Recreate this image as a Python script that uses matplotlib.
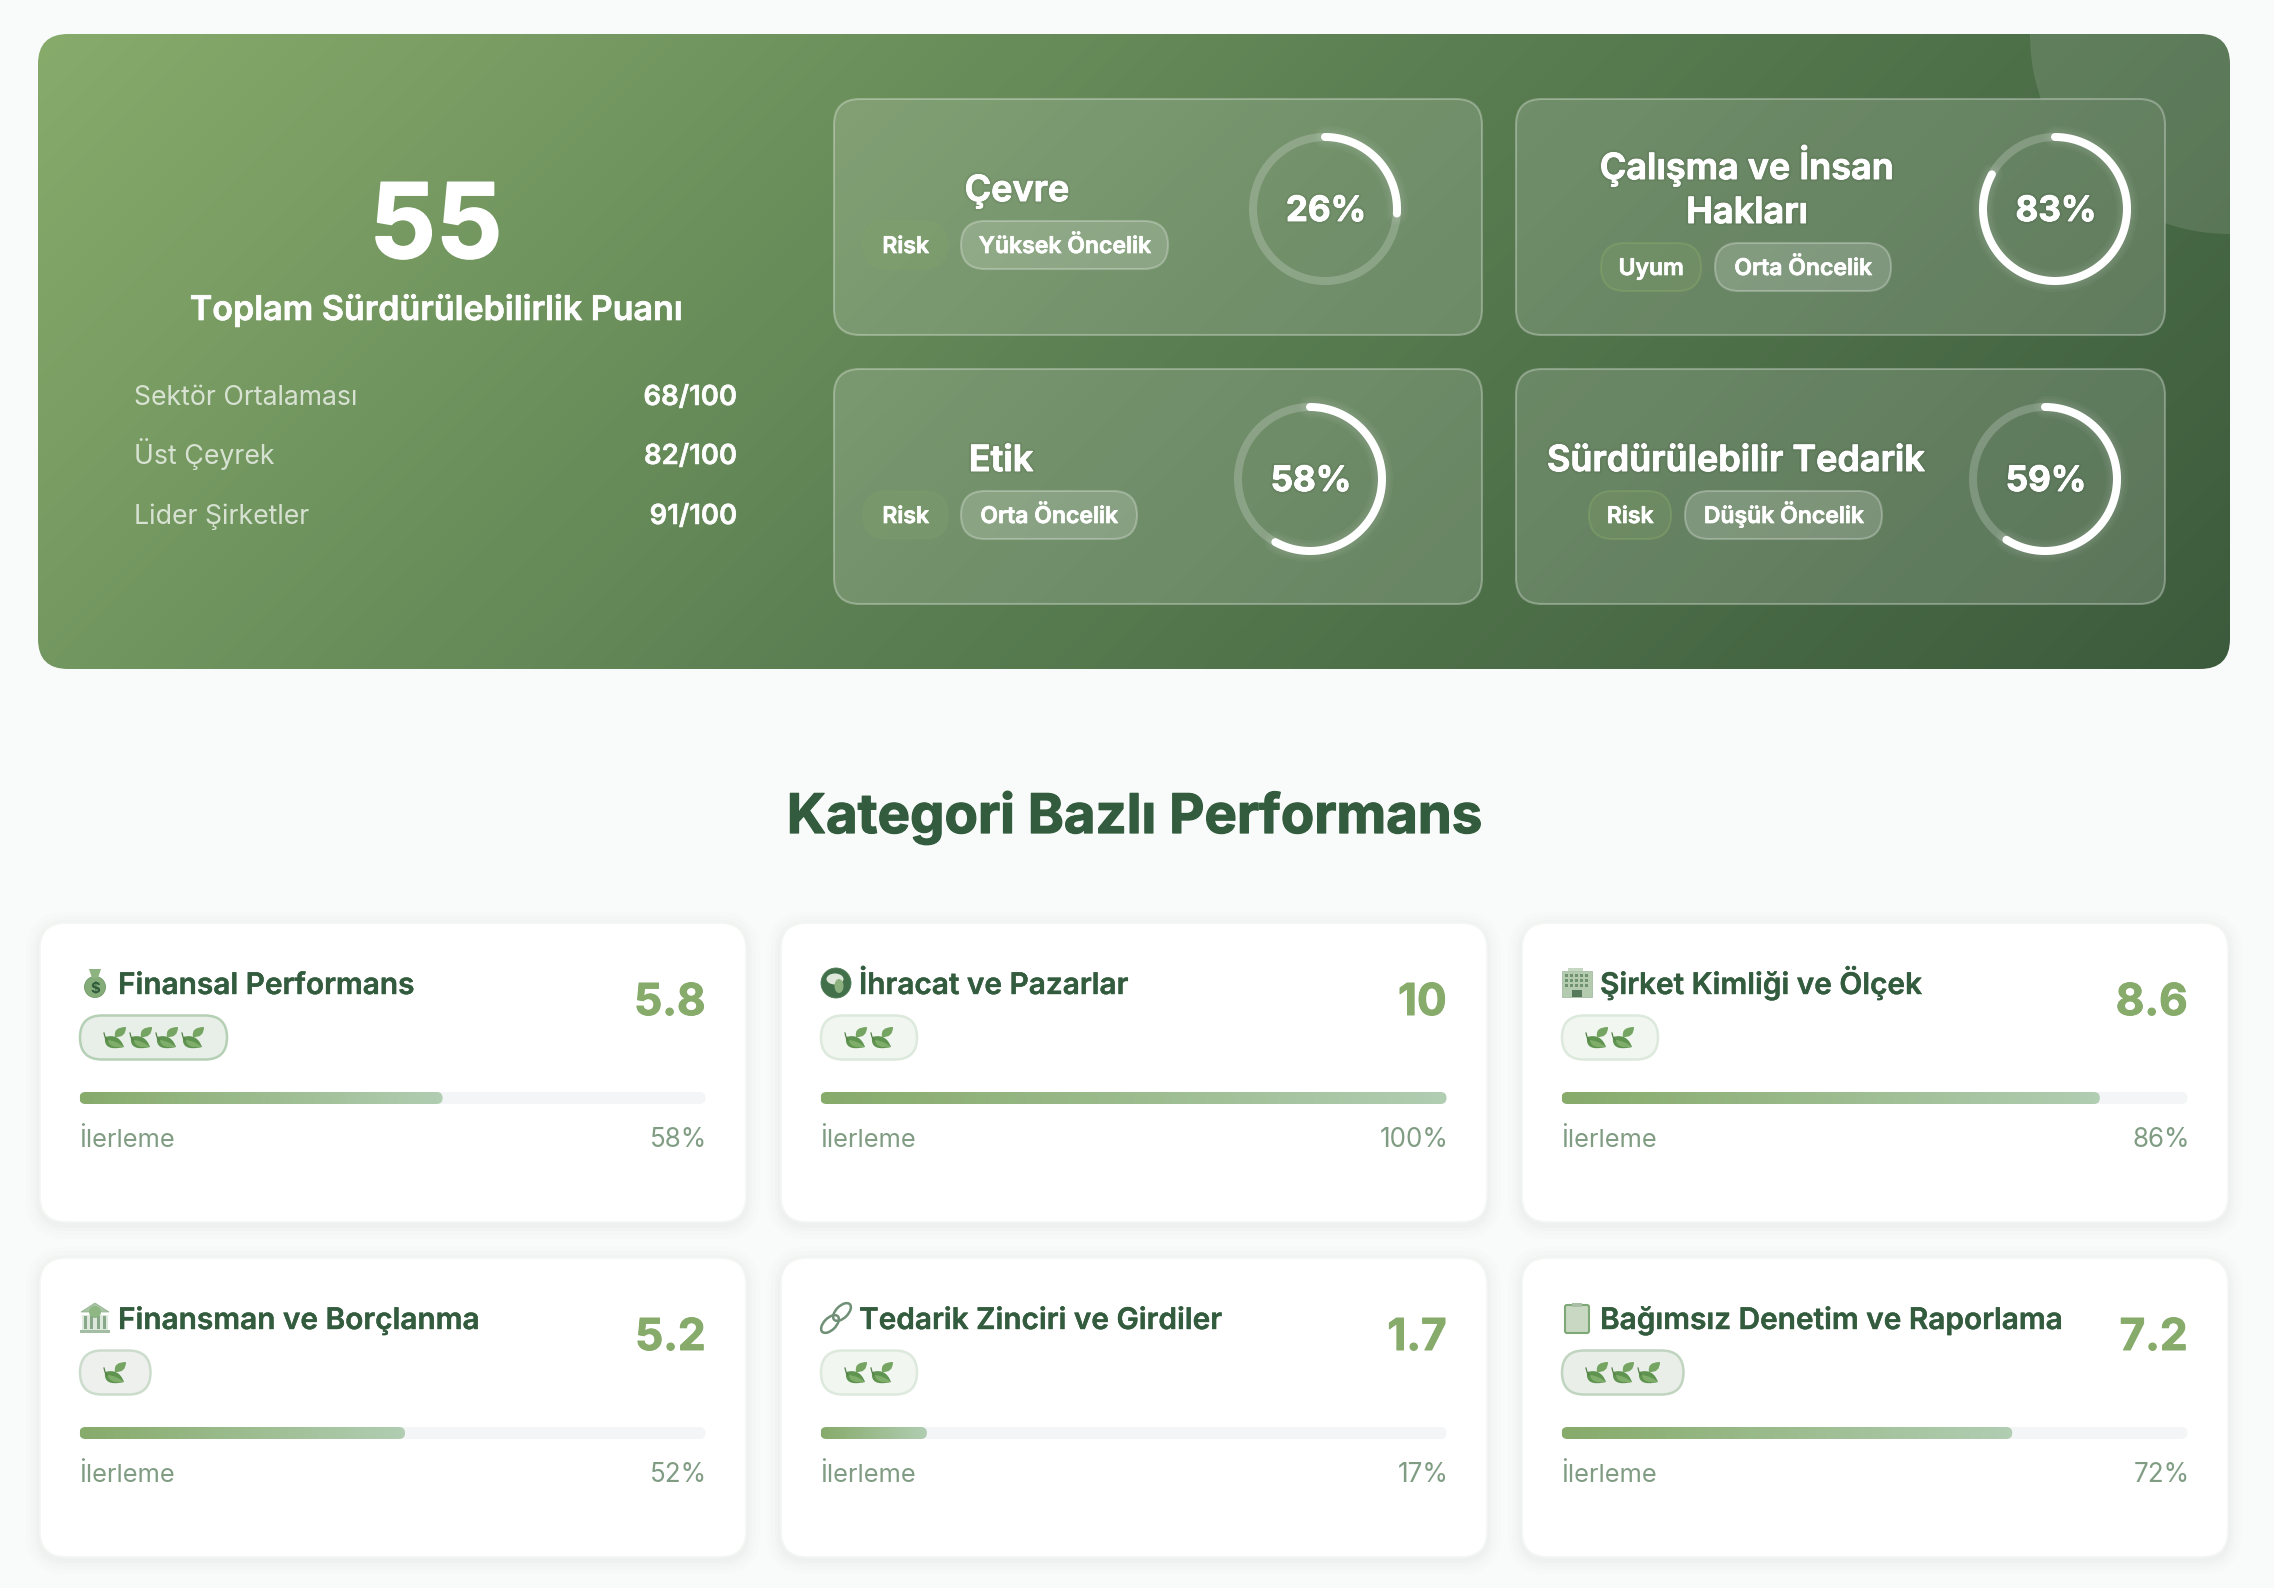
import numpy as np
import matplotlib
matplotlib.use("Agg")
import matplotlib.pyplot as plt
import matplotlib.patheffects as pe
from matplotlib.colors import LinearSegmentedColormap
from matplotlib.patches import Circle, Ellipse, FancyBboxPatch, PathPatch, Polygon, Rectangle
from matplotlib.path import Path

plt.rcParams["font.family"] = ["Inter", "DejaVu Sans"]

# values
total_score = 55
total_label = "Toplam Sürdürülebilirlik Puanı"
stat_labels = ["Sektör Ortalaması", "Üst Çeyrek", "Lider Şirketler"]
stat_values = [68, 82, 91]

pillar_lines = [["Çevre"], ["Çalışma ve İnsan", "Hakları"], ["Etik"], ["Sürdürülebilir Tedarik"]]
pillar_pct = [26, 83, 58, 59]
pillar_status = ["Risk", "Uyum", "Risk", "Risk"]
pillar_priority = ["Yüksek Öncelik", "Orta Öncelik", "Orta Öncelik", "Düşük Öncelik"]

section_title = "Kategori Bazlı Performans"
cat_names = [
    "Finansal Performans",
    "İhracat ve Pazarlar",
    "Şirket Kimliği ve Ölçek",
    "Finansman ve Borçlanma",
    "Tedarik Zinciri ve Girdiler",
    "Bağımsız Denetim ve Raporlama",
]
cat_scores = ["5.8", "10", "8.6", "5.2", "1.7", "7.2"]
cat_pct = [58, 100, 86, 52, 17, 72]
cat_leaves = [4, 2, 2, 1, 2, 3]
cat_icons = ["bag", "globe", "building", "bank", "link", "clipboard"]

# layout, in image pixels
W, H = 2274, 1588
pillar_boxes = [(834, 99, 648, 236), (1516, 99, 649, 236), (834, 369, 648, 235), (1516, 369, 649, 235)]
ring_centers = [(1325, 209), (2055, 209), (1310, 479), (2045, 479)]
title_xs = [1017, 1747, 1001, 1736]
title_baselines = [[201], [179, 223], [471], [471]]
status_pills = [(863, 221, 85, 48), (1601, 243, 100, 48), (863, 491, 85, 48), (1589, 491, 82, 48)]
priority_pills = [(961, 221, 207, 48), (1715, 243, 176, 48), (961, 491, 176, 48), (1685, 491, 197, 48)]
col_xs = [40, 781, 1522]
row_ys = [923, 1258]
CARD_W, CARD_H = 706, 299

LEAF_COLORS = {
    1: ("#eef0ee", "#ccdccc"),
    2: ("#f1f6f0", "#dde9dc"),
    3: ("#e9eee9", "#c0d4c0"),
    4: ("#e8efe8", "#b5d0b5"),
}
DARK = "#335c3e"
MID = "#87ab6b"
MUTED = "#809d84"


def px(size):
    # css pixels to points at dpi 100
    return size * 0.72


def heavy(color, width=0.6, soft=False):
    # Inter comes out a little lighter here, thicken it with a thin stroke
    effects = [pe.withStroke(linewidth=width, foreground=color)]
    if soft:
        effects = [pe.withStroke(linewidth=width + 3, foreground=(0, 0, 0, 0.05))] + effects
    return effects


def rbox(ax, x, y, w, h, r, **kw):
    p = FancyBboxPatch((x, y), w, h, boxstyle=f"round,pad=0,rounding_size={r}", **kw)
    ax.add_patch(p)
    return p


def leaf_patch(ax, pts, color, z=6):
    codes = [Path.MOVETO, Path.CURVE3, Path.CURVE3, Path.CURVE3, Path.CURVE3]
    ax.add_patch(PathPatch(Path(pts, codes), fc=color, ec="none", zorder=z))


def draw_leaf(ax, cx, cy):
    # big leaf lower left, small one upper right, as the emoji has it
    leaf_patch(ax, [(cx - 9, cy - 1), (cx - 11, cy + 14), (cx + 10, cy + 9), (cx + 5, cy - 5), (cx - 9, cy - 1)], "#5f9350")
    leaf_patch(ax, [(cx - 6, cy + 2), (cx - 5, cy + 11), (cx + 10, cy + 9), (cx + 3, cy + 3), (cx - 6, cy + 2)], "#7fae6a")
    leaf_patch(ax, [(cx + 1, cy - 1), (cx - 1, cy - 11), (cx + 12, cy - 11), (cx + 12, cy + 0), (cx + 1, cy - 1)], "#76a563")
    ax.plot([cx - 10, cx - 9, cx - 7], [cy - 5, cy - 1, cy + 2], color="#55804a", lw=0.9, zorder=6)


def draw_icon(ax, kind, cx, cy):
    if kind == "bag":
        ax.add_patch(Ellipse((cx, cy + 4), 21, 21, fc="#84ac78", ec="#6f9a66", lw=0.6, zorder=5))
        ax.add_patch(Polygon([(cx - 6, cy - 14), (cx + 6, cy - 14), (cx + 3, cy - 5), (cx - 3, cy - 5)], fc="#8cb380", zorder=5))
        ax.text(cx, cy + 10, "$", fontsize=px(15), fontweight="bold", color="#2f5a3c", ha="center", zorder=6)
    elif kind == "globe":
        ax.add_patch(Circle((cx, cy), 15, fc="#41704a", ec="#4f7c56", lw=0.6, zorder=5))
        ax.add_patch(Ellipse((cx - 1, cy - 4), 17, 11, fc="#dfe8da", ec="none", zorder=6))
        ax.add_patch(Ellipse((cx + 3, cy + 3), 9, 14, fc="#8db07f", ec="none", zorder=6))
    elif kind == "building":
        ax.add_patch(Rectangle((cx - 15, cy - 12), 30, 26, fc="#b4cbb0", ec="#9ab598", lw=0.5, zorder=5))
        ax.add_patch(Rectangle((cx - 9, cy - 15), 15, 3, fc="#c6d8c2", ec="none", zorder=5))
        for wx in np.arange(cx - 12, cx + 12, 5):
            for wy in np.arange(cy - 9, cy + 6, 5):
                ax.add_patch(Rectangle((wx, wy), 3, 3, fc="#6f926f", ec="none", zorder=6))
        ax.add_patch(Rectangle((cx - 5, cy + 7), 10, 7, fc="#55795a", ec="none", zorder=6))
    elif kind == "bank":
        ax.add_patch(Polygon([(cx - 14, cy - 6), (cx, cy - 15), (cx + 14, cy - 6)], fc="#a8c4a4", ec="#8fae8d", lw=0.5, zorder=5))
        ax.add_patch(Circle((cx, cy - 6), 6, fc="#8fb783", ec="none", zorder=6))
        ax.add_patch(Rectangle((cx - 13, cy - 3), 26, 15, fc="#dfe8dd", ec="none", zorder=5))
        for wx in [cx - 11, cx - 5, cx + 2, cx + 8]:
            ax.add_patch(Rectangle((wx, cy - 2), 3, 13, fc="#88a88a", ec="none", zorder=6))
        ax.add_patch(Rectangle((cx - 15, cy + 12), 30, 3, fc="#a3bda3", ec="none", zorder=6))
    elif kind == "link":
        for dx in [-6, 6]:
            ax.add_patch(Ellipse((cx + dx, cy - dx), 22, 12, angle=-45, fc="none", ec="#6f8f76", lw=1.8, zorder=5))
    elif kind == "clipboard":
        rbox(ax, cx - 12, cy - 13, 24, 28, 2, fc="#c9d8c2", ec="#7fa878", lw=1.5, zorder=5)
        ax.add_patch(Rectangle((cx - 5, cy - 15), 10, 4, fc="#a9bfa5", ec="none", zorder=6))


def gradient_fill(ax, extent, clip, cmap, t, z):
    im = ax.imshow(t, extent=extent, cmap=cmap, vmin=0, vmax=1, aspect="auto", zorder=z, interpolation="bilinear")
    im.set_clip_path(clip)


fig = plt.figure(figsize=(W / 100, H / 100), dpi=100, facecolor="#f9fbfa")
ax = fig.add_axes([0, 0, 1, 1])
ax.axis("off")

########################################################################################################################
# Top panel
########################################################################################################################

HX, HY, HW, HH = 38, 34, 2192, 635
hero = rbox(ax, HX, HY, HW, HH, 30, fc="none", ec="none", zorder=1)
hero_map = LinearSegmentedColormap.from_list("hero", [(0, "#87ab6b"), (0.5, "#5b7f52"), (1, "#3c5b3c")])
gx, gy = np.meshgrid(np.linspace(HX, HX + HW, 400), np.linspace(HY, HY + HH, 160))
gt = 0.5 + ((gx - (HX + HW / 2)) + (gy - (HY + HH / 2))) / (HW + HH)
gradient_fill(ax, (HX, HX + HW, HY, HY + HH), hero, hero_map, gt[::-1], 1)
blob = Circle((HX + HW, HY), 200, fc=(1, 1, 1, 0.11), ec="none", zorder=2)
ax.add_patch(blob)
blob.set_clip_path(hero)

ax.text(436, 258, str(total_score), color="white", fontsize=px(104), fontweight="bold", ha="center", va="baseline", zorder=7, path_effects=heavy("white", 1.2))
ax.text(436, 320, total_label, color="white", fontsize=px(34), fontweight="semibold", ha="center", va="baseline", alpha=0.97, zorder=7, path_effects=heavy("white", 0.5))
for label, value, base in zip(stat_labels, stat_values, [405, 464, 524]):
    ax.text(134, base, label, color="white", alpha=0.72, fontsize=px(26.7), ha="left", va="baseline", zorder=7)
    ax.text(737, base, f"{value}/100", color="white", alpha=0.92, fontsize=px(27.5), fontweight="semibold", ha="right", va="baseline", zorder=7, path_effects=heavy("white", 0.4))

for i in range(4):
    x, y, w, h = pillar_boxes[i]
    # frosted glass: the blob does not show through, so repaint the backdrop first
    glass = rbox(ax, x, y, w, h, 26, fc="none", ec="none", zorder=2.5)
    gradient_fill(ax, (HX, HX + HW, HY, HY + HH), glass, hero_map, gt[::-1], 2.5)
    rbox(ax, x, y, w, h, 26, fc=(1, 1, 1, 0.15), ec=(1, 1, 1, 0.3), lw=1.5, zorder=3)

    for line, base in zip(pillar_lines[i], title_baselines[i]):
        ax.text(title_xs[i], base, line, color="white", fontsize=px(36), fontweight="semibold", ha="center", va="baseline", zorder=7, path_effects=heavy("white", 0.7, soft=True))

    sx, sy, sw, sh = status_pills[i]
    edge = (0.53, 0.66, 0.42, 0.12 if i in (0, 2) else 0.45)
    rbox(ax, sx, sy, sw, sh, 24, fc=(0.53, 0.66, 0.42, 0.22), ec=edge, lw=1.5, zorder=4)
    ax.text(sx + sw / 2, sy + 32, pillar_status[i], color="white", fontsize=px(23), fontweight="semibold", ha="center", va="baseline", zorder=7, path_effects=heavy("white", 0.5))

    px_, py_, pw_, ph_ = priority_pills[i]
    rbox(ax, px_, py_, pw_, ph_, 24, fc=(1, 1, 1, 0.17), ec=(1, 1, 1, 0.27), lw=1.5, zorder=4)
    ax.text(px_ + pw_ / 2, py_ + 32, pillar_priority[i], color="white", fontsize=px(23), fontweight="semibold", ha="center", va="baseline", zorder=7, path_effects=heavy("white", 0.5))

    # ring, starts at twelve o'clock and runs clockwise
    cx, cy = ring_centers[i]
    rr = 72
    th = np.linspace(0, 2 * np.pi, 361)
    ax.plot(cx + rr * np.sin(th), cy - rr * np.cos(th), color=(1, 1, 1, 0.2), lw=px(8), zorder=5)
    th = np.linspace(0, 2 * np.pi * pillar_pct[i] / 100, 200)
    for glow in [22, 17, 13]:
        ax.plot(cx + rr * np.sin(th), cy - rr * np.cos(th), color=(1, 1, 1, 0.035), lw=px(glow), solid_capstyle="round", zorder=5)
    ax.plot(cx + rr * np.sin(th), cy - rr * np.cos(th), color="white", lw=px(8), solid_capstyle="round", zorder=6)
    ax.text(cx + 1, cy + 12, f"{pillar_pct[i]}%", color="white", fontsize=px(35), fontweight="bold", ha="center", va="baseline", zorder=7, path_effects=heavy("white", 0.6, soft=True))

########################################################################################################################
# Category cards
########################################################################################################################

ax.text(1134, 833, section_title, color=DARK, fontsize=px(54.5), fontweight="bold", ha="center", va="baseline", zorder=2, path_effects=heavy(DARK, 0.9))

bar_map = LinearSegmentedColormap.from_list("bar", ["#87ab6b", "#b1cdb2"])

for i in range(6):
    x = col_xs[i % 3]
    y = row_ys[i // 3]
    for grow, a in [(14, 0.006), (10, 0.008), (6, 0.010), (3, 0.012)]:
        rbox(ax, x - grow, y - grow + 3, CARD_W + 2 * grow, CARD_H + 2 * grow, 26 + grow, fc=(0.1, 0.25, 0.1, a), ec="none", zorder=1)
    rbox(ax, x, y, CARD_W, CARD_H, 26, fc="white", ec="#f3f6f2", lw=1.2, zorder=2)

    draw_icon(ax, cat_icons[i], x + 55, y + 60)
    ax.text(x + 78, y + 71, cat_names[i], color=DARK, fontsize=px(29.8), fontweight="semibold", ha="left", va="baseline", zorder=6, path_effects=heavy(DARK, 0.3))
    ax.text(x + 665.5, y + 92, cat_scores[i], color=MID, fontsize=px(44), fontweight="bold", ha="right", va="baseline", zorder=6, path_effects=heavy(MID, 0.7))

    n = cat_leaves[i]
    fc, ec = LEAF_COLORS[n]
    pill_w = 45 + 25.5 * n
    rbox(ax, x + 40, y + 92.5, pill_w, 44, 22, fc=fc, ec=ec, lw=1.8, zorder=4)
    for k in range(n):
        draw_leaf(ax, x + 40 + 34 + 26 * k, y + 115)

    # progress track and gradient fill
    tx, ty, tw, th_ = x + 39.5, y + 169, 626, 12
    rbox(ax, tx, ty, tw, th_, 6, fc="#f3f5f6", ec="none", zorder=3)
    fw = tw * cat_pct[i] / 100
    clip = rbox(ax, tx, ty, fw, th_, 6, fc="none", ec="none", zorder=4)
    gradient_fill(ax, (tx, tx + fw, ty, ty + th_), clip, bar_map, np.linspace(0, 1, 64).reshape(1, -1), 4)

    ax.text(tx, y + 224, "İlerleme", color=MUTED, fontsize=px(25.5), ha="left", va="baseline", zorder=6)
    ax.text(tx + tw + 2, y + 224, f"{cat_pct[i]}%", color=MUTED, fontsize=px(26), ha="right", va="baseline", zorder=6)

ax.set_xlim(0, W)
ax.set_ylim(H, 0)
fig.savefig("out.png", dpi=100, facecolor=fig.get_facecolor())
